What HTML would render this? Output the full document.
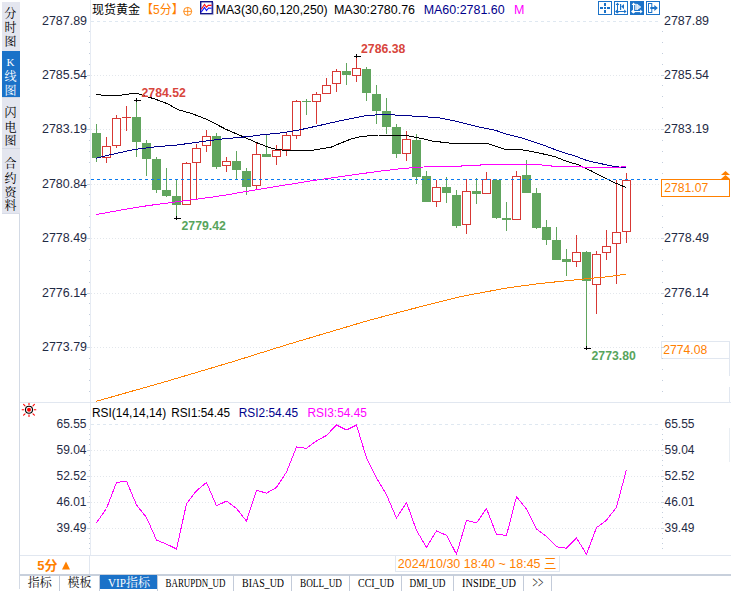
<!DOCTYPE html><html><head><meta charset="utf-8"><title>现货黄金</title>
<style>html,body{margin:0;padding:0;background:#fff;}body{width:731px;height:591px;overflow:hidden;position:relative;font-family:"Liberation Sans","Noto Sans CJK SC",sans-serif;}svg{position:absolute;left:0;top:0;display:block}text{font-family:"Liberation Sans","Noto Sans CJK SC",sans-serif;}.m{font-family:"Liberation Mono","Noto Sans CJK SC",monospace;}</style></head><body>
<svg width="731" height="591" viewBox="0 0 731 591">
<rect width="731" height="591" fill="#fff"/>
<g shape-rendering="crispEdges">
<rect x="2" y="2" width="18" height="212" fill="#e4e6ef"/>
<rect x="2" y="51" width="18" height="46" fill="#1b72c8"/>
<rect x="2" y="148" width="18" height="1" fill="#d4d9e4"/>
<rect x="2" y="97" width="18" height="1" fill="#d4d9e4"/>
<rect x="19" y="214" width="1" height="375" fill="#d3dae5"/>
<rect x="2" y="213" width="18" height="1" fill="#d8dce8"/>
<rect x="90" y="0" width="1" height="402" fill="#e6ebf3"/>
<rect x="90" y="403" width="1" height="152" fill="#e6ebf3"/>
<rect x="20" y="402" width="711" height="1" fill="#e1e7f0"/>
<rect x="20" y="555" width="711" height="1" fill="#e1e7f0"/>
<rect x="729" y="359" width="1" height="17" fill="#e1e7f0"/>
<rect x="729" y="428" width="1" height="34" fill="#e9eef3"/>
<rect x="729" y="387" width="1" height="16" fill="#e1e7f0"/>
<rect x="89" y="555" width="1" height="20" fill="#e1e7f0"/>
<rect x="20" y="574" width="711" height="2" fill="#c8d0dc"/>
<rect x="100" y="575" width="57" height="14" fill="#1b72c8"/>
<rect x="59" y="575" width="1" height="16" fill="#c3cbd9"/>
<rect x="99" y="575" width="1" height="16" fill="#c3cbd9"/>
<rect x="157" y="575" width="1" height="16" fill="#c3cbd9"/>
<rect x="233" y="575" width="1" height="16" fill="#c3cbd9"/>
<rect x="291" y="575" width="1" height="16" fill="#c3cbd9"/>
<rect x="349" y="575" width="1" height="16" fill="#c3cbd9"/>
<rect x="401" y="575" width="1" height="16" fill="#c3cbd9"/>
<rect x="453" y="575" width="1" height="16" fill="#c3cbd9"/>
<rect x="523" y="575" width="1" height="16" fill="#c3cbd9"/>
<rect x="551" y="575" width="1" height="16" fill="#c3cbd9"/>
<rect x="395.5" y="555.5" width="164" height="16" fill="#fff" stroke="#e1e7f0"/>
<rect x="661.5" y="341.5" width="68" height="17" fill="#fff" stroke="#e1e7f0"/>
</g>
<g shape-rendering="crispEdges">
<line x1="91" x2="661" y1="21.5" y2="21.5" stroke="#dfe8f1" stroke-dasharray="3 3"/>
<line x1="91" x2="661" y1="75.5" y2="75.5" stroke="#e3e7ec" stroke-dasharray="1 2"/>
<line x1="91" x2="661" y1="129.5" y2="129.5" stroke="#e3e7ec" stroke-dasharray="1 2"/>
<line x1="91" x2="661" y1="184.5" y2="184.5" stroke="#e3e7ec" stroke-dasharray="1 2"/>
<line x1="91" x2="661" y1="238.5" y2="238.5" stroke="#e3e7ec" stroke-dasharray="1 2"/>
<line x1="91" x2="661" y1="293.5" y2="293.5" stroke="#e3e7ec" stroke-dasharray="1 2"/>
<line x1="91" x2="661" y1="347.5" y2="347.5" stroke="#e3e7ec" stroke-dasharray="1 2"/>
<line x1="91" x2="661" y1="424.5" y2="424.5" stroke="#dfe8f1" stroke-dasharray="3 3"/>
<line x1="91" x2="661" y1="450.5" y2="450.5" stroke="#e3e7ec" stroke-dasharray="1 2"/>
<line x1="91" x2="661" y1="476.5" y2="476.5" stroke="#e3e7ec" stroke-dasharray="1 2"/>
<line x1="91" x2="661" y1="502.5" y2="502.5" stroke="#e3e7ec" stroke-dasharray="1 2"/>
<line x1="91" x2="661" y1="528.5" y2="528.5" stroke="#e3e7ec" stroke-dasharray="1 2"/>
<rect x="89" y="31" width="1" height="1" fill="#c3cddc"/>
<rect x="662" y="31" width="1" height="1" fill="#c3cddc"/>
<rect x="89" y="42" width="1" height="1" fill="#c3cddc"/>
<rect x="662" y="42" width="1" height="1" fill="#c3cddc"/>
<rect x="89" y="53" width="1" height="1" fill="#c3cddc"/>
<rect x="662" y="53" width="1" height="1" fill="#c3cddc"/>
<rect x="89" y="64" width="1" height="1" fill="#c3cddc"/>
<rect x="662" y="64" width="1" height="1" fill="#c3cddc"/>
<rect x="87" y="75" width="3" height="1" fill="#c9d3e0"/>
<rect x="661" y="75" width="3" height="1" fill="#c9d3e0"/>
<rect x="89" y="85" width="1" height="1" fill="#c3cddc"/>
<rect x="662" y="85" width="1" height="1" fill="#c3cddc"/>
<rect x="89" y="96" width="1" height="1" fill="#c3cddc"/>
<rect x="662" y="96" width="1" height="1" fill="#c3cddc"/>
<rect x="89" y="107" width="1" height="1" fill="#c3cddc"/>
<rect x="662" y="107" width="1" height="1" fill="#c3cddc"/>
<rect x="89" y="118" width="1" height="1" fill="#c3cddc"/>
<rect x="662" y="118" width="1" height="1" fill="#c3cddc"/>
<rect x="87" y="129" width="3" height="1" fill="#c9d3e0"/>
<rect x="661" y="129" width="3" height="1" fill="#c9d3e0"/>
<rect x="89" y="140" width="1" height="1" fill="#c3cddc"/>
<rect x="662" y="140" width="1" height="1" fill="#c3cddc"/>
<rect x="89" y="151" width="1" height="1" fill="#c3cddc"/>
<rect x="662" y="151" width="1" height="1" fill="#c3cddc"/>
<rect x="89" y="162" width="1" height="1" fill="#c3cddc"/>
<rect x="662" y="162" width="1" height="1" fill="#c3cddc"/>
<rect x="89" y="173" width="1" height="1" fill="#c3cddc"/>
<rect x="662" y="173" width="1" height="1" fill="#c3cddc"/>
<rect x="87" y="184" width="3" height="1" fill="#c9d3e0"/>
<rect x="661" y="184" width="3" height="1" fill="#c9d3e0"/>
<rect x="89" y="194" width="1" height="1" fill="#c3cddc"/>
<rect x="662" y="194" width="1" height="1" fill="#c3cddc"/>
<rect x="89" y="205" width="1" height="1" fill="#c3cddc"/>
<rect x="662" y="205" width="1" height="1" fill="#c3cddc"/>
<rect x="89" y="216" width="1" height="1" fill="#c3cddc"/>
<rect x="662" y="216" width="1" height="1" fill="#c3cddc"/>
<rect x="89" y="227" width="1" height="1" fill="#c3cddc"/>
<rect x="662" y="227" width="1" height="1" fill="#c3cddc"/>
<rect x="87" y="238" width="3" height="1" fill="#c9d3e0"/>
<rect x="661" y="238" width="3" height="1" fill="#c9d3e0"/>
<rect x="89" y="249" width="1" height="1" fill="#c3cddc"/>
<rect x="662" y="249" width="1" height="1" fill="#c3cddc"/>
<rect x="89" y="260" width="1" height="1" fill="#c3cddc"/>
<rect x="662" y="260" width="1" height="1" fill="#c3cddc"/>
<rect x="89" y="271" width="1" height="1" fill="#c3cddc"/>
<rect x="662" y="271" width="1" height="1" fill="#c3cddc"/>
<rect x="89" y="282" width="1" height="1" fill="#c3cddc"/>
<rect x="662" y="282" width="1" height="1" fill="#c3cddc"/>
<rect x="87" y="293" width="3" height="1" fill="#c9d3e0"/>
<rect x="661" y="293" width="3" height="1" fill="#c9d3e0"/>
<rect x="89" y="303" width="1" height="1" fill="#c3cddc"/>
<rect x="662" y="303" width="1" height="1" fill="#c3cddc"/>
<rect x="89" y="314" width="1" height="1" fill="#c3cddc"/>
<rect x="662" y="314" width="1" height="1" fill="#c3cddc"/>
<rect x="89" y="325" width="1" height="1" fill="#c3cddc"/>
<rect x="662" y="325" width="1" height="1" fill="#c3cddc"/>
<rect x="89" y="336" width="1" height="1" fill="#c3cddc"/>
<rect x="662" y="336" width="1" height="1" fill="#c3cddc"/>
<rect x="87" y="347" width="3" height="1" fill="#c9d3e0"/>
<rect x="661" y="347" width="3" height="1" fill="#c9d3e0"/>
<rect x="89" y="358" width="1" height="1" fill="#c3cddc"/>
<rect x="662" y="358" width="1" height="1" fill="#c3cddc"/>
<rect x="89" y="369" width="1" height="1" fill="#c3cddc"/>
<rect x="662" y="369" width="1" height="1" fill="#c3cddc"/>
<rect x="89" y="380" width="1" height="1" fill="#c3cddc"/>
<rect x="662" y="380" width="1" height="1" fill="#c3cddc"/>
<rect x="89" y="391" width="1" height="1" fill="#c3cddc"/>
<rect x="662" y="391" width="1" height="1" fill="#c3cddc"/>
<rect x="89" y="429" width="1" height="1" fill="#c3cddc"/>
<rect x="662" y="429" width="1" height="1" fill="#c3cddc"/>
<rect x="89" y="434" width="1" height="1" fill="#c3cddc"/>
<rect x="662" y="434" width="1" height="1" fill="#c3cddc"/>
<rect x="89" y="439" width="1" height="1" fill="#c3cddc"/>
<rect x="662" y="439" width="1" height="1" fill="#c3cddc"/>
<rect x="89" y="444" width="1" height="1" fill="#c3cddc"/>
<rect x="662" y="444" width="1" height="1" fill="#c3cddc"/>
<rect x="87" y="450" width="3" height="1" fill="#c9d3e0"/>
<rect x="661" y="450" width="3" height="1" fill="#c9d3e0"/>
<rect x="89" y="455" width="1" height="1" fill="#c3cddc"/>
<rect x="662" y="455" width="1" height="1" fill="#c3cddc"/>
<rect x="89" y="460" width="1" height="1" fill="#c3cddc"/>
<rect x="662" y="460" width="1" height="1" fill="#c3cddc"/>
<rect x="89" y="465" width="1" height="1" fill="#c3cddc"/>
<rect x="662" y="465" width="1" height="1" fill="#c3cddc"/>
<rect x="89" y="470" width="1" height="1" fill="#c3cddc"/>
<rect x="662" y="470" width="1" height="1" fill="#c3cddc"/>
<rect x="87" y="476" width="3" height="1" fill="#c9d3e0"/>
<rect x="661" y="476" width="3" height="1" fill="#c9d3e0"/>
<rect x="89" y="481" width="1" height="1" fill="#c3cddc"/>
<rect x="662" y="481" width="1" height="1" fill="#c3cddc"/>
<rect x="89" y="486" width="1" height="1" fill="#c3cddc"/>
<rect x="662" y="486" width="1" height="1" fill="#c3cddc"/>
<rect x="89" y="491" width="1" height="1" fill="#c3cddc"/>
<rect x="662" y="491" width="1" height="1" fill="#c3cddc"/>
<rect x="89" y="496" width="1" height="1" fill="#c3cddc"/>
<rect x="662" y="496" width="1" height="1" fill="#c3cddc"/>
<rect x="87" y="502" width="3" height="1" fill="#c9d3e0"/>
<rect x="661" y="502" width="3" height="1" fill="#c9d3e0"/>
<rect x="89" y="507" width="1" height="1" fill="#c3cddc"/>
<rect x="662" y="507" width="1" height="1" fill="#c3cddc"/>
<rect x="89" y="512" width="1" height="1" fill="#c3cddc"/>
<rect x="662" y="512" width="1" height="1" fill="#c3cddc"/>
<rect x="89" y="517" width="1" height="1" fill="#c3cddc"/>
<rect x="662" y="517" width="1" height="1" fill="#c3cddc"/>
<rect x="89" y="522" width="1" height="1" fill="#c3cddc"/>
<rect x="662" y="522" width="1" height="1" fill="#c3cddc"/>
<rect x="87" y="528" width="3" height="1" fill="#c9d3e0"/>
<rect x="661" y="528" width="3" height="1" fill="#c9d3e0"/>
<rect x="89" y="533" width="1" height="1" fill="#c3cddc"/>
<rect x="662" y="533" width="1" height="1" fill="#c3cddc"/>
<rect x="89" y="538" width="1" height="1" fill="#c3cddc"/>
<rect x="662" y="538" width="1" height="1" fill="#c3cddc"/>
<rect x="89" y="543" width="1" height="1" fill="#c3cddc"/>
<rect x="662" y="543" width="1" height="1" fill="#c3cddc"/>
<rect x="89" y="548" width="1" height="1" fill="#c3cddc"/>
<rect x="662" y="548" width="1" height="1" fill="#c3cddc"/>
</g>
<g shape-rendering="crispEdges">
<rect x="96" y="124" width="1" height="38" fill="#61a55e"/>
<rect x="92" y="133" width="9" height="25" fill="#61a55e"/>
<rect x="106" y="137" width="1" height="9" fill="#d73834"/>
<rect x="106" y="158" width="1" height="5" fill="#d73834"/>
<rect x="102.5" y="146.5" width="8" height="11" fill="#fff" stroke="#d73834" stroke-width="1"/>
<rect x="116" y="115" width="1" height="3" fill="#d73834"/>
<rect x="116" y="146" width="1" height="2" fill="#d73834"/>
<rect x="112.5" y="118.5" width="8" height="27" fill="#fff" stroke="#d73834" stroke-width="1"/>
<rect x="126" y="106" width="1" height="25" fill="#d73834"/>
<rect x="122" y="117" width="9" height="1" fill="#d73834"/>
<rect x="136" y="101" width="1" height="56" fill="#61a55e"/>
<rect x="132" y="117" width="9" height="25" fill="#61a55e"/>
<rect x="146" y="140" width="1" height="36" fill="#61a55e"/>
<rect x="142" y="143" width="9" height="16" fill="#61a55e"/>
<rect x="156" y="157" width="1" height="36" fill="#61a55e"/>
<rect x="152" y="159" width="9" height="31" fill="#61a55e"/>
<rect x="166" y="168" width="1" height="29" fill="#61a55e"/>
<rect x="162" y="190" width="9" height="6" fill="#61a55e"/>
<rect x="176" y="180" width="1" height="38" fill="#61a55e"/>
<rect x="172" y="196" width="9" height="9" fill="#61a55e"/>
<rect x="186" y="162" width="1" height="1" fill="#d73834"/>
<rect x="182.5" y="163.5" width="8" height="41" fill="#fff" stroke="#d73834" stroke-width="1"/>
<rect x="196" y="144" width="1" height="4" fill="#d73834"/>
<rect x="196" y="163" width="1" height="36" fill="#d73834"/>
<rect x="192.5" y="148.5" width="8" height="14" fill="#fff" stroke="#d73834" stroke-width="1"/>
<rect x="206" y="130" width="1" height="6" fill="#d73834"/>
<rect x="206" y="146" width="1" height="6" fill="#d73834"/>
<rect x="202.5" y="136.5" width="8" height="9" fill="#fff" stroke="#d73834" stroke-width="1"/>
<rect x="216" y="133" width="1" height="36" fill="#61a55e"/>
<rect x="212" y="136" width="9" height="31" fill="#61a55e"/>
<rect x="226" y="157" width="1" height="4" fill="#d73834"/>
<rect x="226" y="166" width="1" height="6" fill="#d73834"/>
<rect x="222.5" y="161.5" width="8" height="4" fill="#fff" stroke="#d73834" stroke-width="1"/>
<rect x="236" y="151" width="1" height="28" fill="#61a55e"/>
<rect x="232" y="161" width="9" height="9" fill="#61a55e"/>
<rect x="246" y="168" width="1" height="27" fill="#61a55e"/>
<rect x="242" y="171" width="9" height="16" fill="#61a55e"/>
<rect x="256" y="143" width="1" height="11" fill="#d73834"/>
<rect x="256" y="186" width="1" height="3" fill="#d73834"/>
<rect x="252.5" y="154.5" width="8" height="31" fill="#fff" stroke="#d73834" stroke-width="1"/>
<rect x="266" y="135" width="1" height="22" fill="#61a55e"/>
<rect x="262" y="154" width="9" height="3" fill="#61a55e"/>
<rect x="276" y="145" width="1" height="5" fill="#d73834"/>
<rect x="276" y="157" width="1" height="8" fill="#d73834"/>
<rect x="272.5" y="150.5" width="8" height="6" fill="#fff" stroke="#d73834" stroke-width="1"/>
<rect x="286" y="133" width="1" height="2" fill="#d73834"/>
<rect x="286" y="150" width="1" height="6" fill="#d73834"/>
<rect x="282.5" y="135.5" width="8" height="14" fill="#fff" stroke="#d73834" stroke-width="1"/>
<rect x="296" y="100" width="1" height="1" fill="#d73834"/>
<rect x="296" y="136" width="1" height="3" fill="#d73834"/>
<rect x="292.5" y="101.5" width="8" height="34" fill="#fff" stroke="#d73834" stroke-width="1"/>
<rect x="306" y="99" width="1" height="16" fill="#61a55e"/>
<rect x="302" y="101" width="9" height="1" fill="#61a55e"/>
<rect x="316" y="92" width="1" height="2" fill="#d73834"/>
<rect x="316" y="102" width="1" height="22" fill="#d73834"/>
<rect x="312.5" y="94.5" width="8" height="7" fill="#fff" stroke="#d73834" stroke-width="1"/>
<rect x="326" y="78" width="1" height="7" fill="#d73834"/>
<rect x="322.5" y="85.5" width="8" height="8" fill="#fff" stroke="#d73834" stroke-width="1"/>
<rect x="336" y="69" width="1" height="2" fill="#d73834"/>
<rect x="336" y="84" width="1" height="8" fill="#d73834"/>
<rect x="332.5" y="71.5" width="8" height="12" fill="#fff" stroke="#d73834" stroke-width="1"/>
<rect x="346" y="63" width="1" height="22" fill="#61a55e"/>
<rect x="342" y="71" width="9" height="4" fill="#61a55e"/>
<rect x="356" y="56" width="1" height="12" fill="#d73834"/>
<rect x="356" y="76" width="1" height="6" fill="#d73834"/>
<rect x="352.5" y="68.5" width="8" height="7" fill="#fff" stroke="#d73834" stroke-width="1"/>
<rect x="366" y="67" width="1" height="34" fill="#61a55e"/>
<rect x="362" y="69" width="9" height="24" fill="#61a55e"/>
<rect x="376" y="85" width="1" height="39" fill="#61a55e"/>
<rect x="372" y="94" width="9" height="17" fill="#61a55e"/>
<rect x="386" y="98" width="1" height="36" fill="#61a55e"/>
<rect x="382" y="111" width="9" height="16" fill="#61a55e"/>
<rect x="396" y="124" width="1" height="34" fill="#61a55e"/>
<rect x="392" y="127" width="9" height="27" fill="#61a55e"/>
<rect x="406" y="131" width="1" height="8" fill="#d73834"/>
<rect x="406" y="154" width="1" height="7" fill="#d73834"/>
<rect x="402.5" y="139.5" width="8" height="14" fill="#fff" stroke="#d73834" stroke-width="1"/>
<rect x="416" y="134" width="1" height="50" fill="#61a55e"/>
<rect x="412" y="140" width="9" height="37" fill="#61a55e"/>
<rect x="426" y="171" width="1" height="31" fill="#61a55e"/>
<rect x="422" y="176" width="9" height="26" fill="#61a55e"/>
<rect x="436" y="180" width="1" height="7" fill="#d73834"/>
<rect x="436" y="202" width="1" height="5" fill="#d73834"/>
<rect x="432.5" y="187.5" width="8" height="14" fill="#fff" stroke="#d73834" stroke-width="1"/>
<rect x="446" y="177" width="1" height="26" fill="#61a55e"/>
<rect x="442" y="187" width="9" height="6" fill="#61a55e"/>
<rect x="456" y="190" width="1" height="38" fill="#61a55e"/>
<rect x="452" y="195" width="9" height="31" fill="#61a55e"/>
<rect x="466" y="179" width="1" height="12" fill="#d73834"/>
<rect x="466" y="225" width="1" height="9" fill="#d73834"/>
<rect x="462.5" y="191.5" width="8" height="33" fill="#fff" stroke="#d73834" stroke-width="1"/>
<rect x="476" y="178" width="1" height="26" fill="#61a55e"/>
<rect x="472" y="191" width="9" height="3" fill="#61a55e"/>
<rect x="486" y="172" width="1" height="7" fill="#d73834"/>
<rect x="482.5" y="179.5" width="8" height="14" fill="#fff" stroke="#d73834" stroke-width="1"/>
<rect x="496" y="179" width="1" height="40" fill="#61a55e"/>
<rect x="492" y="180" width="9" height="38" fill="#61a55e"/>
<rect x="506" y="202" width="1" height="29" fill="#61a55e"/>
<rect x="502" y="218" width="9" height="2" fill="#61a55e"/>
<rect x="516" y="171" width="1" height="5" fill="#d73834"/>
<rect x="512.5" y="176.5" width="8" height="43" fill="#fff" stroke="#d73834" stroke-width="1"/>
<rect x="526" y="160" width="1" height="33" fill="#61a55e"/>
<rect x="522" y="175" width="9" height="18" fill="#61a55e"/>
<rect x="536" y="188" width="1" height="41" fill="#61a55e"/>
<rect x="532" y="193" width="9" height="35" fill="#61a55e"/>
<rect x="546" y="220" width="1" height="25" fill="#61a55e"/>
<rect x="542" y="227" width="9" height="13" fill="#61a55e"/>
<rect x="556" y="227" width="1" height="33" fill="#61a55e"/>
<rect x="552" y="240" width="9" height="20" fill="#61a55e"/>
<rect x="566" y="249" width="1" height="27" fill="#61a55e"/>
<rect x="562" y="259" width="9" height="3" fill="#61a55e"/>
<rect x="576" y="235" width="1" height="17" fill="#d73834"/>
<rect x="576" y="262" width="1" height="5" fill="#d73834"/>
<rect x="572.5" y="252.5" width="8" height="9" fill="#fff" stroke="#d73834" stroke-width="1"/>
<rect x="586" y="251" width="1" height="98" fill="#61a55e"/>
<rect x="582" y="252" width="9" height="29" fill="#61a55e"/>
<rect x="596" y="251" width="1" height="3" fill="#d73834"/>
<rect x="596" y="285" width="1" height="29" fill="#d73834"/>
<rect x="592.5" y="254.5" width="8" height="30" fill="#fff" stroke="#d73834" stroke-width="1"/>
<rect x="606" y="230" width="1" height="16" fill="#d73834"/>
<rect x="606" y="253" width="1" height="7" fill="#d73834"/>
<rect x="602.5" y="246.5" width="8" height="6" fill="#fff" stroke="#d73834" stroke-width="1"/>
<rect x="616" y="180" width="1" height="52" fill="#d73834"/>
<rect x="616" y="244" width="1" height="40" fill="#d73834"/>
<rect x="612.5" y="232.5" width="8" height="11" fill="#fff" stroke="#d73834" stroke-width="1"/>
<rect x="626" y="173" width="1" height="7" fill="#d73834"/>
<rect x="626" y="232" width="1" height="11" fill="#d73834"/>
<rect x="622.5" y="180.5" width="8" height="51" fill="#fff" stroke="#d73834" stroke-width="1"/>
</g>
<polyline points="96.0,94.4 103.0,95.3 118.4,95.4 126.0,94.6 131.6,93.5 137.0,93.5 142.5,95.2 155.6,99.3 168.0,103.9 177.5,109.5 192.8,113.9 208.2,120.0 225.7,129.2 250.0,139.7 258.0,143.2 268.0,147.1 276.0,149.3 285.0,150.4 310.0,150.6 321.0,148.9 331.0,147.2 341.0,143.0 351.0,139.0 361.0,136.6 378.0,135.0 406.0,135.4 418.0,137.7 424.0,139.0 432.5,141.2 442.4,142.2 451.0,143.3 487.5,143.4 505.0,149.2 521.6,149.7 536.9,152.5 554.4,156.5 567.5,161.7 578.5,164.8 589.4,170.0 602.5,176.6 615.7,183.2 626.0,187.5" fill="none" stroke="#000000" stroke-width="1" stroke-linejoin="round" shape-rendering="crispEdges"/>
<polyline points="96.0,158.3 111.9,154.4 133.8,149.6 155.6,146.8 177.5,145.0 199.4,141.9 221.3,139.1 250.0,136.4 262.0,134.8 284.0,132.6 300.0,129.8 318.0,125.8 340.0,120.8 365.0,115.8 380.0,114.6 395.0,115.0 412.0,116.0 438.0,117.6 458.0,121.7 480.0,127.2 495.3,130.2 506.3,134.2 523.8,138.5 545.6,146.0 561.0,151.8 576.3,156.4 587.2,160.7 602.5,164.0 615.7,166.8 626.0,167.5" fill="none" stroke="#00008b" stroke-width="1" stroke-linejoin="round" shape-rendering="crispEdges"/>
<polyline points="96.0,214.6 120.0,210.2 148.0,205.6 210.0,197.4 224.0,195.3 268.0,187.8 316.6,180.0 378.0,171.4 390.6,169.9 400.0,168.8 412.0,167.7 432.0,166.5 461.0,166.5 462.0,165.5 480.0,165.5 481.0,164.5 541.5,164.5 542.5,165.5 551.0,165.5 552.0,166.5 582.0,166.5 583.0,167.5 620.5,167.5 621.5,166.5 626.0,166.5" fill="none" stroke="#ff00ff" stroke-width="1" stroke-linejoin="round" shape-rendering="crispEdges"/>
<polyline points="96.0,401.4 165.0,381.8 232.0,361.9 287.0,344.7 368.0,320.6 410.0,309.4 460.0,296.7 505.0,288.3 538.0,283.7 582.0,279.2 609.0,276.6 626.0,274.1" fill="none" stroke="#ff8000" stroke-width="1" stroke-linejoin="round" shape-rendering="crispEdges"/>
<line x1="91" x2="661" y1="179.5" y2="179.5" stroke="#0b7bef" stroke-width="1" stroke-dasharray="3 3" shape-rendering="crispEdges"/>
<polyline points="96.5,522.7 106.5,508.5 116.5,482.5 126.5,481.1 136.5,504.9 146.5,517.5 156.5,540.0 166.5,544.1 176.5,549.0 186.5,503.8 196.5,490.7 206.5,482.5 216.5,505.8 226.5,501.1 236.5,508.5 246.5,521.1 256.5,490.2 266.5,493.2 276.5,487.4 286.5,472.0 296.5,446.9 306.5,448.3 316.5,440.9 326.5,435.4 336.5,425.0 346.5,430.0 356.5,425.0 366.5,457.9 376.5,477.9 386.5,494.8 396.5,518.1 406.5,502.5 416.5,530.4 426.5,547.3 436.5,530.9 446.5,535.3 456.5,554.2 466.5,520.3 476.5,523.0 486.5,508.5 496.5,534.5 506.5,535.3 516.5,496.7 526.5,509.0 536.5,529.0 546.5,536.4 556.5,546.8 566.5,548.2 576.5,538.0 586.5,554.2 596.5,527.6 606.5,520.3 616.5,507.1 626.5,469.6" fill="none" stroke="#ff00ff" stroke-width="1" stroke-linejoin="round" shape-rendering="crispEdges"/>
<g shape-rendering="crispEdges"><rect x="134" y="100" width="7" height="1" fill="#000"/><rect x="136" y="98" width="1" height="4" fill="#000"/></g>
<g shape-rendering="crispEdges"><rect x="354" y="56" width="7" height="1" fill="#000"/><rect x="356" y="54" width="1" height="4" fill="#000"/></g>
<g shape-rendering="crispEdges"><rect x="174" y="218" width="7" height="1" fill="#000"/><rect x="176" y="216" width="1" height="4" fill="#000"/></g>
<g shape-rendering="crispEdges"><rect x="584" y="348" width="7" height="1" fill="#000"/><rect x="586" y="346" width="1" height="4" fill="#000"/></g>
<text x="42" y="25.3" font-size="12" fill="#1f2a44" text-anchor="start" font-weight="normal" textLength="45" lengthAdjust="spacingAndGlyphs">2787.89</text>
<text x="664" y="25.3" font-size="12" fill="#1f2a44" text-anchor="start" font-weight="normal" textLength="45" lengthAdjust="spacingAndGlyphs">2787.89</text>
<text x="42" y="79.3" font-size="12" fill="#1f2a44" text-anchor="start" font-weight="normal" textLength="45" lengthAdjust="spacingAndGlyphs">2785.54</text>
<text x="664" y="79.3" font-size="12" fill="#1f2a44" text-anchor="start" font-weight="normal" textLength="45" lengthAdjust="spacingAndGlyphs">2785.54</text>
<text x="42" y="133.3" font-size="12" fill="#1f2a44" text-anchor="start" font-weight="normal" textLength="45" lengthAdjust="spacingAndGlyphs">2783.19</text>
<text x="664" y="133.3" font-size="12" fill="#1f2a44" text-anchor="start" font-weight="normal" textLength="45" lengthAdjust="spacingAndGlyphs">2783.19</text>
<text x="42" y="188.3" font-size="12" fill="#1f2a44" text-anchor="start" font-weight="normal" textLength="45" lengthAdjust="spacingAndGlyphs">2780.84</text>
<text x="664" y="188.3" font-size="12" fill="#1f2a44" text-anchor="start" font-weight="normal" textLength="45" lengthAdjust="spacingAndGlyphs">2780.84</text>
<text x="42" y="242.3" font-size="12" fill="#1f2a44" text-anchor="start" font-weight="normal" textLength="45" lengthAdjust="spacingAndGlyphs">2778.49</text>
<text x="664" y="242.3" font-size="12" fill="#1f2a44" text-anchor="start" font-weight="normal" textLength="45" lengthAdjust="spacingAndGlyphs">2778.49</text>
<text x="42" y="297.3" font-size="12" fill="#1f2a44" text-anchor="start" font-weight="normal" textLength="45" lengthAdjust="spacingAndGlyphs">2776.14</text>
<text x="664" y="297.3" font-size="12" fill="#1f2a44" text-anchor="start" font-weight="normal" textLength="45" lengthAdjust="spacingAndGlyphs">2776.14</text>
<text x="42" y="351.3" font-size="12" fill="#1f2a44" text-anchor="start" font-weight="normal" textLength="45" lengthAdjust="spacingAndGlyphs">2773.79</text>
<text x="56.5" y="428.3" font-size="12" fill="#1f2a44" text-anchor="start" font-weight="normal" textLength="30" lengthAdjust="spacingAndGlyphs">65.55</text>
<text x="664.5" y="428.3" font-size="12" fill="#1f2a44" text-anchor="start" font-weight="normal" textLength="30" lengthAdjust="spacingAndGlyphs">65.55</text>
<text x="56.5" y="454.3" font-size="12" fill="#1f2a44" text-anchor="start" font-weight="normal" textLength="30" lengthAdjust="spacingAndGlyphs">59.04</text>
<text x="664.5" y="454.3" font-size="12" fill="#1f2a44" text-anchor="start" font-weight="normal" textLength="30" lengthAdjust="spacingAndGlyphs">59.04</text>
<text x="56.5" y="480.3" font-size="12" fill="#1f2a44" text-anchor="start" font-weight="normal" textLength="30" lengthAdjust="spacingAndGlyphs">52.52</text>
<text x="664.5" y="480.3" font-size="12" fill="#1f2a44" text-anchor="start" font-weight="normal" textLength="30" lengthAdjust="spacingAndGlyphs">52.52</text>
<text x="56.5" y="506.3" font-size="12" fill="#1f2a44" text-anchor="start" font-weight="normal" textLength="30" lengthAdjust="spacingAndGlyphs">46.01</text>
<text x="664.5" y="506.3" font-size="12" fill="#1f2a44" text-anchor="start" font-weight="normal" textLength="30" lengthAdjust="spacingAndGlyphs">46.01</text>
<text x="56.5" y="532.3" font-size="12" fill="#1f2a44" text-anchor="start" font-weight="normal" textLength="30" lengthAdjust="spacingAndGlyphs">39.49</text>
<text x="664.5" y="532.3" font-size="12" fill="#1f2a44" text-anchor="start" font-weight="normal" textLength="30" lengthAdjust="spacingAndGlyphs">39.49</text>
<text x="141.5" y="97" font-size="12" fill="#d8453c" text-anchor="start" font-weight="bold" textLength="44.3" lengthAdjust="spacingAndGlyphs">2784.52</text>
<text x="361" y="53" font-size="12" fill="#d8453c" text-anchor="start" font-weight="bold" textLength="44.3" lengthAdjust="spacingAndGlyphs">2786.38</text>
<text x="181.5" y="230" font-size="12" fill="#58a45c" text-anchor="start" font-weight="bold" textLength="44.3" lengthAdjust="spacingAndGlyphs">2779.42</text>
<text x="591.5" y="360.2" font-size="12" fill="#58a45c" text-anchor="start" font-weight="bold" textLength="44.3" lengthAdjust="spacingAndGlyphs">2773.80</text>
<rect x="661.5" y="179.5" width="68" height="17" fill="#fff" stroke="#ff8000" shape-rendering="crispEdges"/>
<text x="664.2" y="192.3" font-size="12" fill="#ff8000" text-anchor="start" font-weight="normal" textLength="44" lengthAdjust="spacingAndGlyphs">2781.07</text>
<path d="M725.5 171 L730 175 L721 175 Z M725.5 175 L730 179 L721 179 Z" fill="#ff8000"/>
<text x="663.2" y="353.8" font-size="12" fill="#ff8000" text-anchor="start" font-weight="normal" textLength="44" lengthAdjust="spacingAndGlyphs">2774.08</text>
<text x="92" y="13.8" font-size="12" fill="#000" text-anchor="start" font-weight="normal">现货黄金</text>
<text x="141" y="13.8" font-size="12" fill="#ff8000" text-anchor="start" font-weight="normal">【5分】</text>
<circle cx="187.7" cy="11.4" r="4" fill="none" stroke="#ff8000" stroke-width="0.9"/><path d="M183.7 11.4H191.7M187.7 7.4V15.4" stroke="#ff8000" stroke-width="0.8"/>
<g><rect x="200.7" y="1.7" width="11.6" height="12" fill="#fff" stroke="#14148c" stroke-width="1.4"/><path d="M201.5 14.6H213.3V2.5" stroke="#9aa0c0" stroke-width="0.8" fill="none"/><polyline points="201.3,9.2 204.5,4.4 206.5,7.2 208.3,5.4 211.6,5.4" fill="none" stroke="#ff1010" stroke-width="1.1"/><polyline points="201.3,12 204.5,7.4 206.5,10.5 208.6,8 211.6,8.3" fill="none" stroke="#1010ff" stroke-width="1.1"/></g>
<text x="215.7" y="13.5" font-size="12" fill="#000" text-anchor="start" font-weight="normal" textLength="112" lengthAdjust="spacingAndGlyphs">MA3(30,60,120,250)</text>
<text x="334" y="13.5" font-size="12" fill="#000" text-anchor="start" font-weight="normal" textLength="81" lengthAdjust="spacingAndGlyphs">MA30:2780.76</text>
<text x="423.7" y="13.5" font-size="12" fill="#00008b" text-anchor="start" font-weight="normal" textLength="81" lengthAdjust="spacingAndGlyphs">MA60:2781.60</text>
<text x="514" y="13.5" font-size="12.5" fill="#ff00ff" text-anchor="start" font-weight="normal">M</text>
<rect x="598.5" y="1.5" width="13" height="13" fill="#fff" stroke="#1b72c8" shape-rendering="crispEdges"/><g fill="#1b72c8" shape-rendering="crispEdges"><rect x="604" y="3" width="2" height="3"/><rect x="604" y="10" width="2" height="3"/><rect x="600" y="7" width="3" height="2"/><rect x="607" y="7" width="3" height="2"/><rect x="604" y="7" width="2" height="2"/></g>
<rect x="614.5" y="1.5" width="13" height="13" fill="#fff" stroke="#1b72c8" shape-rendering="crispEdges"/><g fill="#1b72c8"><rect x="617" y="3.5" width="1" height="9.5"/><rect x="616" y="11" width="10" height="1"/><path d="M617.5 2.6l-1.9 2.4h3.8z M617.5 13.6l-1.9 -2.2h3.8z M626.6 11.5l-2.4 -1.9v3.8z M615 11.5l2.2 -1.9v3.8z"/><rect x="620" y="4" width="1.2" height="6"/><path d="M621.2 6.6L624 4V9.2Z"/></g>
<rect x="630.5" y="1.5" width="13" height="13" fill="#1b72c8" stroke="#1b72c8" shape-rendering="crispEdges"/><g fill="#fff"><rect x="633" y="3.5" width="1.2" height="9.5"/><rect x="632" y="11" width="10" height="1.1"/><path d="M633.6 2.6l-2 2.4h4z M633.6 13.6l-2 -2.2h4z M642.6 11.5l-2.4 -2v4z M631 11.5l2.2 -2v4z"/><rect x="635.3" y="3.8" width="1.3" height="6.2"/><path d="M637 4.2L640.8 7L637 9.8Z" fill="#c8dcf4" stroke="#fff" stroke-width="0.7"/></g>
<rect x="646.5" y="1.5" width="13" height="13" fill="#fff" stroke="#1b72c8" shape-rendering="crispEdges"/><g fill="#1b72c8"><rect x="648.5" y="3.5" width="3.3" height="9" fill="none" stroke="#1b72c8" stroke-width="1"/><rect x="650.3" y="7" width="4.5" height="2"/><path d="M654.3 4.9L657.9 8L654.3 11Z"/></g>
<text x="10.5" y="17.5" font-size="12" fill="#000" text-anchor="middle" font-weight="normal" style="font-family:'Liberation Serif','Noto Serif CJK SC',serif">分</text><text x="10.5" y="32" font-size="12" fill="#000" text-anchor="middle" font-weight="normal" style="font-family:'Liberation Serif','Noto Serif CJK SC',serif">时</text><text x="10.5" y="46" font-size="12" fill="#000" text-anchor="middle" font-weight="normal" style="font-family:'Liberation Serif','Noto Serif CJK SC',serif">图</text>
<text x="10.5" y="80.5" font-size="12" fill="#fff" text-anchor="middle" font-weight="normal" style="font-family:'Liberation Serif','Noto Serif CJK SC',serif">线</text><text x="10.5" y="94.5" font-size="12" fill="#fff" text-anchor="middle" font-weight="normal" style="font-family:'Liberation Serif','Noto Serif CJK SC',serif">图</text>
<text x="10.5" y="66" font-size="11" fill="#fff" text-anchor="middle" font-weight="normal" style="font-family:'Liberation Serif','Noto Serif CJK SC',serif">K</text>
<text x="10.5" y="116.5" font-size="12" fill="#000" text-anchor="middle" font-weight="normal" style="font-family:'Liberation Serif','Noto Serif CJK SC',serif">闪</text><text x="10.5" y="131.7" font-size="12" fill="#000" text-anchor="middle" font-weight="normal" style="font-family:'Liberation Serif','Noto Serif CJK SC',serif">电</text><text x="10.5" y="144.7" font-size="12" fill="#000" text-anchor="middle" font-weight="normal" style="font-family:'Liberation Serif','Noto Serif CJK SC',serif">图</text>
<text x="10.5" y="168" font-size="12" fill="#000" text-anchor="middle" font-weight="normal" style="font-family:'Liberation Serif','Noto Serif CJK SC',serif">合</text><text x="10.5" y="182.5" font-size="12" fill="#000" text-anchor="middle" font-weight="normal" style="font-family:'Liberation Serif','Noto Serif CJK SC',serif">约</text><text x="10.5" y="196.5" font-size="12" fill="#000" text-anchor="middle" font-weight="normal" style="font-family:'Liberation Serif','Noto Serif CJK SC',serif">资</text><text x="10.5" y="210" font-size="12" fill="#000" text-anchor="middle" font-weight="normal" style="font-family:'Liberation Serif','Noto Serif CJK SC',serif">料</text>
<g><circle cx="29" cy="409.8" r="3.5" fill="#fff" stroke="#000" stroke-width="1.1"/><circle cx="29" cy="409.8" r="2" fill="#ff0000"/><g stroke="#ff0000" stroke-width="1.1" stroke-linecap="round"><path d="M29 403.2v1.6M29 414.9v1.6M22.2 409.8h1.6M34.2 409.8h1.6M23.6 404.4l1.4 1.4M33 413.8l1.4 1.4M34.4 404.4l-1.4 1.4M25 413.8l-1.4 1.4"/></g></g>
<text x="92" y="417" font-size="12" fill="#000" text-anchor="start" font-weight="normal" textLength="74.2" lengthAdjust="spacingAndGlyphs">RSI(14,14,14)</text>
<text x="171.3" y="417" font-size="12" fill="#000" text-anchor="start" font-weight="normal" textLength="58.8" lengthAdjust="spacingAndGlyphs">RSI1:54.45</text>
<text x="238.8" y="417" font-size="12" fill="#00008b" text-anchor="start" font-weight="normal" textLength="59.3" lengthAdjust="spacingAndGlyphs">RSI2:54.45</text>
<text x="307.4" y="417" font-size="12" fill="#ff00ff" text-anchor="start" font-weight="normal" textLength="59.5" lengthAdjust="spacingAndGlyphs">RSI3:54.45</text>
<text x="37.3" y="570" font-size="13" fill="#ff8000" text-anchor="start" font-weight="bold">5分</text>
<path d="M62 569.5L66 561.5L70 569.5Z" fill="#ff8000"/>
<text x="397.8" y="568.3" font-size="13" fill="#ff8000" text-anchor="start" font-weight="normal" textLength="158.7" lengthAdjust="spacingAndGlyphs">2024/10/30 18:40 ~ 18:45 三</text>
<text x="39.7" y="587" font-size="12" fill="#111" text-anchor="middle" font-weight="normal" style="font-family:'Liberation Serif','Noto Serif CJK SC',serif">指标</text>
<text x="79.4" y="587" font-size="12" fill="#111" text-anchor="middle" font-weight="normal" style="font-family:'Liberation Serif','Noto Serif CJK SC',serif">模板</text>
<text x="108" y="586.5" font-size="12" fill="#fff" style="font-family:'Liberation Serif','Noto Serif CJK SC',serif" textLength="18" lengthAdjust="spacingAndGlyphs">VIP</text>
<text x="126" y="587" font-size="12" fill="#fff" style="font-family:'Liberation Serif','Noto Serif CJK SC',serif">指标</text>
<text x="165.5" y="586.5" font-size="12" fill="#000" style="font-family:'Liberation Serif','Noto Serif CJK SC',serif" textLength="60" lengthAdjust="spacingAndGlyphs">BARUPDN_UD</text>
<text x="242" y="586.5" font-size="12" fill="#000" style="font-family:'Liberation Serif','Noto Serif CJK SC',serif" textLength="42" lengthAdjust="spacingAndGlyphs">BIAS_UD</text>
<text x="300" y="586.5" font-size="12" fill="#000" style="font-family:'Liberation Serif','Noto Serif CJK SC',serif" textLength="42" lengthAdjust="spacingAndGlyphs">BOLL_UD</text>
<text x="358" y="586.5" font-size="12" fill="#000" style="font-family:'Liberation Serif','Noto Serif CJK SC',serif" textLength="36" lengthAdjust="spacingAndGlyphs">CCI_UD</text>
<text x="409.5" y="586.5" font-size="12" fill="#000" style="font-family:'Liberation Serif','Noto Serif CJK SC',serif" textLength="36" lengthAdjust="spacingAndGlyphs">DMI_UD</text>
<text x="462" y="586.5" font-size="12" fill="#000" style="font-family:'Liberation Serif','Noto Serif CJK SC',serif" textLength="54" lengthAdjust="spacingAndGlyphs">INSIDE_UD</text>
<text x="532.6" y="588.3" font-size="16" fill="#222" style="font-family:'Liberation Serif','Noto Serif CJK SC',serif" textLength="11" lengthAdjust="spacingAndGlyphs">&gt;&gt;</text>
</svg></body></html>
